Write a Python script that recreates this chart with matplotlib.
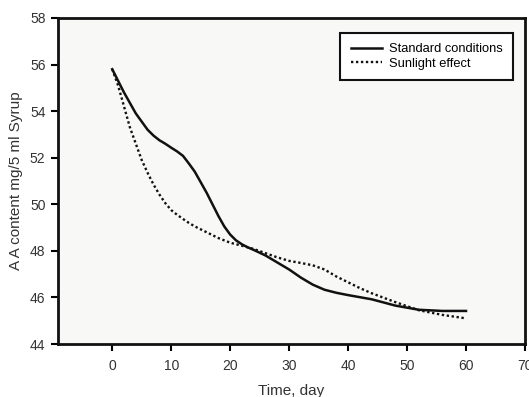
import matplotlib
matplotlib.use("Agg")
import matplotlib.pyplot as plt

plt.rcParams['font.family'] = ['Liberation Sans', 'DejaVu Sans']

# Standard conditions (solid)
std_days = [0, 1, 2, 3, 4, 5, 6, 7, 8, 9, 10, 11, 12, 13, 14, 15, 16, 17,
            18, 19, 20, 21, 22, 23, 24, 26, 28, 30, 32, 34, 36, 38, 40,
            44, 48, 52, 56, 60]
std_vals = [55.8, 55.3, 54.8, 54.35, 53.9, 53.55, 53.2, 52.95, 52.75, 52.6,
            52.43, 52.27, 52.08, 51.75, 51.4, 50.95, 50.5, 50.0, 49.5, 49.05,
            48.7, 48.45, 48.28, 48.15, 48.04, 47.8, 47.5, 47.2, 46.85, 46.55,
            46.33, 46.2, 46.1, 45.92, 45.65, 45.47, 45.42, 45.42]

# Sunlight effect (dotted)
sun_days = [0, 1, 2, 3, 4, 5, 6, 7, 8, 9, 10, 11, 12, 13, 14, 16, 18, 20,
            22, 24, 26, 28, 30, 32, 34, 36, 38, 40, 42, 44, 48, 52, 56, 60]
sun_vals = [55.8, 55.1, 54.2, 53.3, 52.6, 51.9, 51.35, 50.85, 50.42, 50.05,
            49.75, 49.55, 49.37, 49.2, 49.05, 48.8, 48.55, 48.35, 48.22,
            48.08, 47.9, 47.72, 47.57, 47.48, 47.38, 47.2, 46.9, 46.65, 46.4,
            46.18, 45.8, 45.45, 45.25, 45.1]

x_ticks = [0, 10, 20, 30, 40, 50, 60, 70]
y_ticks = [44, 46, 48, 50, 52, 54, 56, 58]

fig = plt.figure(figsize=(5.29, 3.97), dpi=100)
ax = fig.add_axes([0.1096, 0.1335, 0.8828, 0.8212])
ax.set_facecolor('#f8f8f7')

ax.plot(std_days, std_vals, color='#111111', lw=1.8, label='Standard conditions')
ax.plot(sun_days, sun_vals, color='#111111', lw=1.7, linestyle=(0, (1, 1.1)),
        label='Sunlight effect')

ax.set_xlim(-9.2, 70)
ax.set_ylim(44, 58)
ax.set_xticks(x_ticks)
ax.set_yticks(y_ticks)
ax.tick_params(direction='out', length=5, width=1.5, labelsize=10,
               labelcolor='#333333', pad=4)
ax.tick_params(axis='x', pad=6)
for s in ax.spines.values():
    s.set_linewidth(2)
    s.set_color('#111111')

ax.set_xlabel('Time, day', fontsize=11, color='#333333', labelpad=8)
ax.set_ylabel('A A content mg/5 ml Syrup', fontsize=11, color='#333333', labelpad=5)

leg = ax.legend(loc='upper right', bbox_to_anchor=(0.974, 0.955), fontsize=9.3,
                handlelength=2.4, fancybox=False, framealpha=1, edgecolor='#111111',
                borderpad=0.8, labelspacing=0.2, handletextpad=0.55, borderaxespad=0)
leg.get_frame().set_linewidth(1.5)

fig.savefig('out.png', dpi=100)
